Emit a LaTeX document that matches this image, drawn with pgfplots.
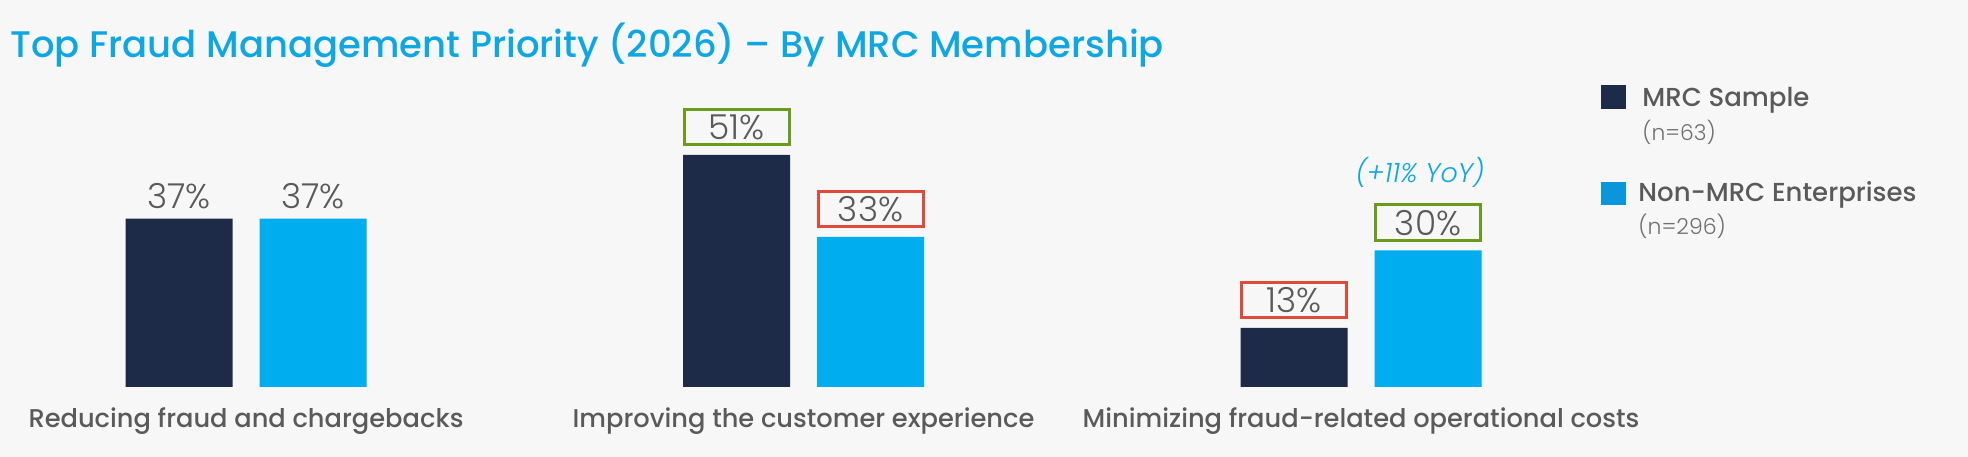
\documentclass[border=0pt]{standalone}
\usepackage{pgfplots}
\pgfplotsset{compat=1.18}
\usepackage{pgfplotstable}
\usepackage{fontspec}
\setmainfont{Poppins}
\IfFontExistsTF{Poppins Medium}{\newfontfamily\fmed{Poppins Medium}}{\newfontfamily\fmed{Poppins}}
\IfFontExistsTF{Poppins Light}{\newfontfamily\flight{Poppins Light}}{\newfontfamily\flight{Poppins}}
\IfFontExistsTF{Poppins Light Italic}{\newfontfamily\flightit{Poppins Light Italic}}{\newfontfamily\flightit{Poppins}[FakeSlant=0.2]}
\definecolor{bg}{HTML}{F7F7F7}
\definecolor{navy}{HTML}{1D2A48}
\definecolor{sky}{HTML}{00ADEE}
\definecolor{legsky}{HTML}{0A96D8}
\definecolor{titleblue}{HTML}{0FA7E2}
\definecolor{txt}{HTML}{5A5A5A}
\definecolor{txtlight}{HTML}{707070}
\definecolor{boxgreen}{HTML}{6A9B1C}
\definecolor{boxred}{HTML}{E04A3B}

\pgfplotstableread{
x y
0 37
1 51
2 13
}\mrc
\pgfplotstableread{
x y
0 37
1 33
2 30
}\nonmrc

\pgfplotsset{
  lbl/.style={draw=none, fill=none, forget plot, bar shift=#1,
    nodes near coords={\pgfmathprintnumber{\pgfplotspointmeta}\%},
    point meta=y,
    every node near coord/.append style={line width=1.5bp, minimum width=52.5bp, minimum height=17.8bp, inner sep=0pt, outer sep=0pt, anchor=south, text=txt, font=\flight\fontsize{17.2bp}{19bp}\selectfont}},
  plainlbl/.style={every node near coord/.append style={draw=none, yshift=2.6bp}},
  boxlbl/.style={every node near coord/.append style={draw=#1, yshift=5bp}},
}

\begin{document}
\begin{tikzpicture}[x=0.5bp,y=0.5bp]
\fill[bg] (0,0) rectangle (1968,457);
\begin{axis}[
  at={(0,0)}, anchor=south west,
  scale only axis, width=984bp, height=228.5bp,
  xmin=-0.44126, xmax=3.08879, ymin=-15.3846, ymax=85.055,
  axis line style={draw=none}, major tick length=0pt, ytick=\empty,
  xtick={0,1,2},
  xticklabels={Reducing fraud and chargebacks, Improving the customer experience, Minimizing fraud-related operational costs},
  xticklabel style={font=\fmed\fontsize{12.85bp}{15bp}\selectfont, text=txt, anchor=base, yshift=14.5bp},
  ybar, bar width=53.5bp,
  clip=false,
  /pgf/number format/assume math mode=true,
]
\addplot[fill=navy, draw=none, bar shift=-33.5bp] table[x=x, y=y] {\mrc};
\addplot[fill=sky, draw=none, bar shift=33.5bp] table[x=x, y=y] {\nonmrc};
% value labels
\addplot[lbl=-33.5bp, plainlbl, restrict x to domain=-0.5:0.5] table[x=x, y=y] {\mrc};
\addplot[lbl=-33.5bp, boxlbl=boxgreen, restrict x to domain=0.5:1.5] table[x=x, y=y] {\mrc};
\addplot[lbl=-33.5bp, boxlbl=boxred, restrict x to domain=1.5:2.5] table[x=x, y=y] {\mrc};
\addplot[lbl=33.5bp, plainlbl, restrict x to domain=-0.5:0.5] table[x=x, y=y] {\nonmrc};
\addplot[lbl=33.5bp, boxlbl=boxred, restrict x to domain=0.5:1.5] table[x=x, y=y] {\nonmrc};
\addplot[lbl=33.5bp, boxlbl=boxgreen, restrict x to domain=1.5:2.5] table[x=x, y=y] {\nonmrc};
\end{axis}
\node[anchor=base west, inner sep=0pt, text=titleblue, font=\fmed\fontsize{18.5bp}{21bp}\selectfont] at (10,399) {Top Fraud Management Priority (2026) – By MRC Membership};
\node[anchor=base, inner sep=0pt, text=titleblue, font=\flightit\fontsize{13.5bp}{16bp}\selectfont] at (1420,274) {(+11\% YoY)};
\fill[navy] (1601,348) rectangle (1626,372);
\node[anchor=base west, inner sep=0pt, text=txt, font=\fmed\fontsize{13bp}{16bp}\selectfont] at (1642,350) {MRC Sample};
\node[anchor=base west, inner sep=0pt, text=txtlight, font=\flight\fontsize{10.9bp}{12bp}\selectfont] at (1642,316) {(n=63)};
\fill[legsky] (1601,252) rectangle (1626,275);
\node[anchor=base west, inner sep=0pt, text=txt, font=\fmed\fontsize{13bp}{16bp}\selectfont] at (1638,255) {Non-MRC Enterprises};
\node[anchor=base west, inner sep=0pt, text=txtlight, font=\flight\fontsize{11bp}{12bp}\selectfont] at (1638,222) {(n=296)};
\pgfresetboundingbox
\path (0,0) rectangle (1968,457);
\end{tikzpicture}
\end{document}
